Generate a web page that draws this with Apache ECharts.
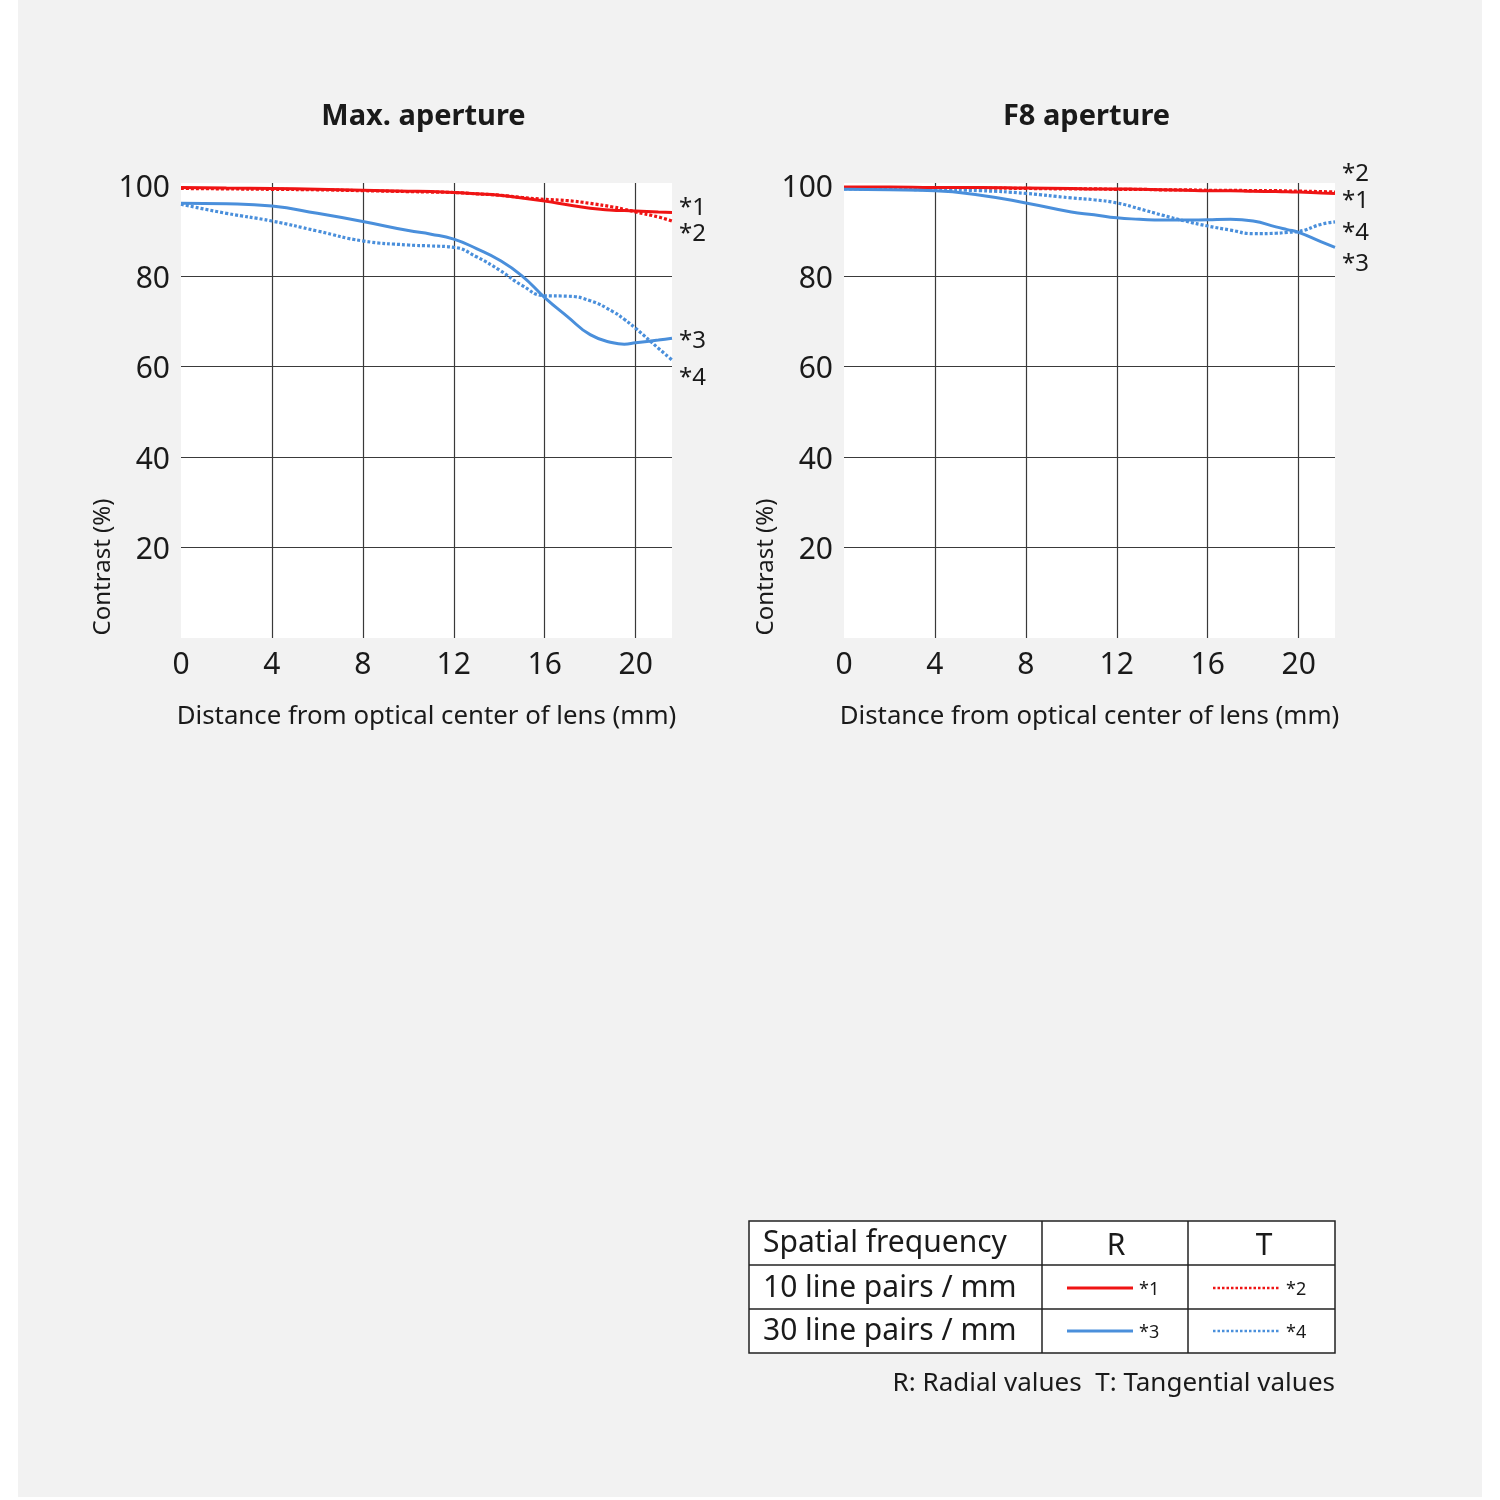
<!DOCTYPE html>
<html>
<head>
<meta charset="utf-8">
<title>MTF chart</title>
<script src="https://cdn.jsdelivr.net/npm/echarts@6/dist/echarts.min.js"></script>
<style>
  html, body { margin: 0; padding: 0; background: #fff; }
  #chart {
    width: 1500px;
    height: 1500px;
    background: linear-gradient(#f2f2f2, #f2f2f2) 18px 0 / 1464px 1497px no-repeat, #fff;
  }
</style>
</head>
<body>
<div id="chart"></div>
<script>
// distance from optical center (mm), shared by all curves
const dist = [0, 2, 4, 6, 8, 10, 11, 12, 13, 14, 15, 16, 17, 18, 19, 19.5, 20, 21, 21.6]

// Max. aperture
const maxR10 = [99.5, 99.4, 99.3, 99.1, 98.9, 98.7, 98.6, 98.4, 98.1, 97.8, 97.2, 96.5, 95.7, 94.9, 94.5, 94.4, 94.3, 94.1, 94.0]
const maxT10 = [99.3, 99.2, 99.1, 99.0, 98.8, 98.6, 98.5, 98.4, 98.1, 97.8, 97.3, 96.9, 96.6, 96.0, 95.2, 94.7, 94.1, 93.0, 92.1]
const maxR30 = [96.0, 95.9, 95.4, 93.8, 92.0, 90.0, 89.2, 88.1, 86.0, 83.5, 80.0, 75.2, 71.0, 67.0, 65.2, 64.9, 65.2, 65.8, 66.2]
const maxT30 = [95.8, 93.8, 92.1, 89.9, 87.7, 86.8, 86.6, 86.3, 84.2, 81.3, 77.9, 75.6, 75.5, 74.5, 72.1, 70.4, 68.4, 64.0, 61.4]

// F8 aperture
const f8R10 = [99.6, 99.6, 99.5, 99.5, 99.4, 99.3, 99.2, 99.2, 99.1, 99.0, 98.9, 98.8, 98.8, 98.7, 98.6, 98.55, 98.5, 98.3, 98.2]
const f8T10 = [99.5, 99.5, 99.5, 99.4, 99.3, 99.2, 99.2, 99.1, 99.1, 99.0, 99.0, 98.9, 98.9, 98.8, 98.8, 98.75, 98.7, 98.6, 98.5]
const f8R30 = [99.1, 99.0, 98.8, 97.8, 96.1, 94.1, 93.5, 92.8, 92.5, 92.3, 92.3, 92.4, 92.5, 92.1, 90.8, 90.2, 89.6, 87.5, 86.3]
const f8T30 = [99.2, 99.1, 99.0, 98.8, 98.2, 97.2, 96.8, 96.1, 94.8, 93.4, 92.1, 91.0, 90.1, 89.3, 89.4, 89.6, 89.8, 91.4, 91.9]

const xTicks = [0, 4, 8, 12, 16, 20]
const yTicks = [0, 20, 40, 60, 80, 100]
const chartTitles = ['Max. aperture', 'F8 aperture']
const curveNames = ['*1', '*2', '*3', '*4']
const tableRows = ['10 line pairs / mm', '30 line pairs / mm']

const FONT = 'Noto Sans'
const TEXT = '#1a1a1a'
const RED = '#ef1414'
const BLUE = '#4a8fdb'
const GRID = '#3a3a3a'

const pairs = (xs, ys) => xs.map((x, i) => [x, ys[i]])

// 图表区域
const plots = [
  { left: 181, top: 183, width: 491, height: 455 },
  { left: 844, top: 183, width: 491, height: 455 }
]

const xAxisOf = (gridIndex) => ({
  type: 'value',
  gridIndex,
  min: xTicks[0],
  max: 21.6,
  interval: xTicks[1] - xTicks[0],
  axisLine: { show: false },
  axisTick: { show: false },
  axisLabel: { fontSize: 30, color: TEXT, fontFamily: FONT, margin: 12, showMaxLabel: false },
  splitLine: { show: true, showMinLine: false, showMaxLine: false, lineStyle: { color: GRID, width: 1.2 } },
  name: 'Distance from optical center of lens (mm)',
  nameLocation: 'middle',
  nameGap: 66,
  nameTextStyle: { fontSize: 25.8, color: TEXT, fontFamily: FONT }
})

const yAxisOf = (gridIndex) => ({
  type: 'value',
  gridIndex,
  min: yTicks[0],
  max: 100.5,
  interval: yTicks[1] - yTicks[0],
  axisLine: { show: false },
  axisTick: { show: false },
  axisLabel: {
    color: TEXT, fontFamily: FONT, margin: 11,
    showMinLabel: false, showMaxLabel: false,
    formatter: v => `{v|${v}}`,
    rich: { v: { fontSize: 30, color: TEXT, fontFamily: FONT, padding: [7, 0, 0, 0] } }
  },
  splitLine: {
    show: true, showMinLine: false, showMaxLine: false,
    lineStyle: { color: [GRID, GRID, GRID, GRID, 'rgba(0,0,0,0)'], width: 1.2 }
  }
})

// 一条曲线
const curve = (idx, name, ys, color, dotted, dy) => ({
  type: 'line',
  name,
  xAxisIndex: idx,
  yAxisIndex: idx,
  data: pairs(dist, ys),
  smooth: 0.5,
  symbol: 'none',
  silent: true,
  lineStyle: { color, width: dotted ? 3.2 : 3, type: dotted ? [3, 2] : 'solid', cap: 'butt' },
  endLabel: {
    show: true,
    formatter: name,
    distance: 0,
    offset: [7, dy],
    fontSize: 24,
    color: TEXT,
    fontFamily: FONT
  },
  z: dotted ? 3 : 4
})

const series = [
  curve(0, curveNames[0], maxR10, RED, false, -4),
  curve(0, curveNames[1], maxT10, RED, true, 13),
  curve(0, curveNames[2], maxR30, BLUE, false, 3),
  curve(0, curveNames[3], maxT30, BLUE, true, 18),
  curve(1, curveNames[0], f8R10, RED, false, 8),
  curve(1, curveNames[1], f8T10, RED, true, -18),
  curve(1, curveNames[2], f8R30, BLUE, false, 17),
  curve(1, curveNames[3], f8T30, BLUE, true, 11)
]

// 表格 + 标题 + 纵轴名
const graphic = []
plots.forEach((p, i) => {
  graphic.push({
    type: 'text', x: p.left + p.width / 2 - 3, y: 117,
    style: { text: chartTitles[i], font: `bold 29px "${FONT}"`, fill: TEXT, align: 'center', verticalAlign: 'middle' }
  })
  graphic.push({
    type: 'text', x: p.left - 78, y: 567, rotation: Math.PI / 2,
    style: { text: 'Contrast (%)', font: `24px "${FONT}"`, fill: TEXT, align: 'center', verticalAlign: 'middle' }
  })
})

const tb = { x: 749, y: 1221, w: 586, h: 132, c1: 1042, c2: 1188, r1: 1265, r2: 1309 }
const border = { stroke: '#222', lineWidth: 1.5 }
const cellFont = `30px "${FONT}"`
graphic.push(
  { type: 'rect', shape: { x: tb.x, y: tb.y, width: tb.w, height: tb.h }, style: { fill: '#fff', ...border } },
  { type: 'line', shape: { x1: tb.c1, y1: tb.y, x2: tb.c1, y2: tb.y + tb.h }, style: border },
  { type: 'line', shape: { x1: tb.c2, y1: tb.y, x2: tb.c2, y2: tb.y + tb.h }, style: border },
  { type: 'line', shape: { x1: tb.x, y1: tb.r1, x2: tb.x + tb.w, y2: tb.r1 }, style: border },
  { type: 'line', shape: { x1: tb.x, y1: tb.r2, x2: tb.x + tb.w, y2: tb.r2 }, style: border },
  { type: 'text', x: 763, y: 1243, style: { text: 'Spatial frequency', font: cellFont, fill: TEXT, verticalAlign: 'middle' } },
  { type: 'text', x: 1116, y: 1246, style: { text: 'R', font: cellFont, fill: TEXT, align: 'center', verticalAlign: 'middle' } },
  { type: 'text', x: 1264, y: 1246, style: { text: 'T', font: cellFont, fill: TEXT, align: 'center', verticalAlign: 'middle' } },
  { type: 'text', x: 1335, y: 1384, style: { text: 'R: Radial values  T: Tangential values', font: `26px "${FONT}"`, fill: TEXT, align: 'right', verticalAlign: 'middle' } }
)
tableRows.forEach((label, r) => {
  const cy = (r === 0 ? 1288 : 1331)
  const color = r === 0 ? RED : BLUE
  graphic.push(
    { type: 'text', x: 763, y: cy, style: { text: label, font: cellFont, fill: TEXT, verticalAlign: 'middle' } },
    { type: 'line', shape: { x1: 1067, y1: cy, x2: 1133, y2: cy }, style: { stroke: color, lineWidth: 3 } },
    { type: 'text', x: 1139, y: cy + 2, style: { text: curveNames[r * 2], font: `18px "${FONT}"`, fill: TEXT, verticalAlign: 'middle' } },
    { type: 'line', shape: { x1: 1213, y1: cy, x2: 1280, y2: cy }, style: { stroke: color, lineWidth: 2.5, lineDash: [2.5, 2] } },
    { type: 'text', x: 1286, y: cy + 2, style: { text: curveNames[r * 2 + 1], font: `18px "${FONT}"`, fill: TEXT, verticalAlign: 'middle' } }
  )
})

const chart = echarts.init(document.getElementById('chart'))
chart.setOption({
  animation: false,
  textStyle: { fontFamily: FONT },
  grid: plots.map(p => ({ ...p, show: true, backgroundColor: '#fff', borderWidth: 0, containLabel: false })),
  xAxis: [xAxisOf(0), xAxisOf(1)],
  yAxis: [yAxisOf(0), yAxisOf(1)],
  series,
  graphic
})
</script>
</body>
</html>
